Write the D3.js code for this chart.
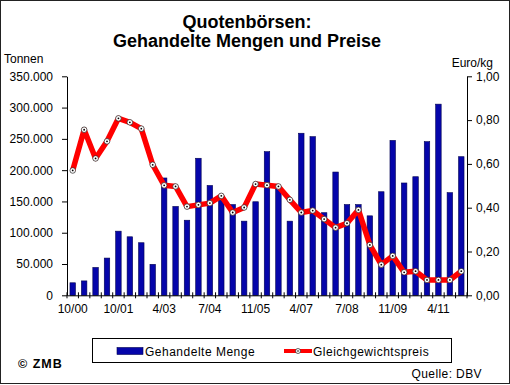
<!DOCTYPE html>
<html>
<head>
<meta charset="utf-8">
<script src="https://cdn.jsdelivr.net/npm/d3@7"></script>
<style>
  body { margin: 0; background: #fff; }
  svg { display: block; font-family: Arial, 'Liberation Sans', sans-serif; }
</style>
</head>
<body>
<svg width="510" height="385"></svg>
<script>
// Quotenbörsen: traded volumes (t) and equilibrium price (Euro/kg)
const categories = ['10/00', '2/01', '4/01', '7/01', '10/01', '4/02', '7/02', '10/02',
  '4/03', '7/03', '11/03', '4/04', '7/04', '11/04', '4/05', '7/05',
  '11/05', '4/06', '7/06', '11/06', '4/07', '7/07', '11/07', '4/08',
  '7/08', '11/08', '4/09', '7/09', '11/09', '4/10', '7/10', '11/10',
  '4/11', '7/11', '11/11'];

const menge = [20000, 23000, 44500, 59500, 102500, 93500, 84000, 49500,
  187500, 142000, 120000, 219000, 175500, 152000, 145000, 118500,
  149500, 229500, 170000, 118500, 259000, 253500, 132000, 197000,
  145000, 145000, 127000, 165500, 247500, 179500, 189500, 245500,
  305500, 164000, 221500];

const preis = [0.570, 0.756, 0.625, 0.703, 0.808, 0.790, 0.761, 0.596,
  0.502, 0.497, 0.405, 0.413, 0.421, 0.454, 0.378, 0.401,
  0.508, 0.503, 0.497, 0.436, 0.378, 0.387, 0.348, 0.309,
  0.329, 0.390, 0.230, 0.140, 0.180, 0.105, 0.110, 0.070,
  0.070, 0.070, 0.110];

const mengeTicks = [0, 50000, 100000, 150000, 200000, 250000, 300000, 350000];
const preisTicks = [0, 0.2, 0.4, 0.6, 0.8, 1.0];

const de = d3.formatLocale({ decimal: ',', thousands: '.', grouping: [3], currency: ['', ' €'] });

const svg = d3.select('svg');
const plotL = 67, plotR = 467, plotT = 76.3, plotB = 295.3;

// outer frame
svg.append('rect')
    .attr('x', 0.5).attr('y', 0.5)
    .attr('width', 509).attr('height', 383)
    .attr('fill', '#fff')
    .attr('stroke', '#222');

// title
const title = svg.append('text')
    .attr('text-anchor', 'middle')
    .attr('font-weight', 'bold')
    .attr('font-size', 18);
title.append('tspan').attr('x', 247).attr('y', 28).text('Quotenbörsen:');
title.append('tspan').attr('x', 247).attr('y', 47).text('Gehandelte Mengen und Preise');

svg.append('text').attr('x', 4).attr('y', 63).attr('font-size', 12).text('Tonnen');
svg.append('text').attr('x', 493).attr('y', 67).attr('font-size', 12)
    .attr('text-anchor', 'end').text('Euro/kg');

const x = d3.scaleBand()
    .domain(categories)
    .range([plotL, plotR])
    .paddingInner(0.52)
    .paddingOuter(0.26);

const yL = d3.scaleLinear().domain([0, 350000]).range([plotB, plotT]);
const yR = d3.scaleLinear().domain([0, 1]).range([plotB, plotT]);

// bars
svg.append('g')
  .selectAll('rect')
  .data(menge)
  .join('rect')
    .attr('x', (d, i) => x(categories[i]))
    .attr('y', d => yL(d))
    .attr('width', x.bandwidth())
    .attr('height', d => yL(0) - yL(d))
    .attr('fill', '#0505aa')
    .attr('stroke', '#000050')
    .attr('stroke-width', 0.6);

// left axis
const axL = svg.append('g')
    .attr('transform', 'translate(' + plotL + ',0)')
    .call(d3.axisLeft(yL).tickValues(mengeTicks).tickFormat(de.format(',.0f'))
      .tickSize(5).tickPadding(9).tickSizeOuter(0));
axL.selectAll('text').attr('font-size', 12).attr('fill', '#000');

// right axis
const axR = svg.append('g')
    .attr('transform', 'translate(' + plotR + ',0)')
    .call(d3.axisRight(yR).tickValues(preisTicks).tickFormat(de.format('.2f'))
      .tickSize(5).tickPadding(4).tickSizeOuter(0));
axR.selectAll('text').attr('font-size', 12).attr('fill', '#000');

// bottom axis: labels every 4th category, tick marks between categories
const axB = svg.append('g')
    .attr('transform', 'translate(0,' + plotB + ')')
    .call(d3.axisBottom(x).tickSize(0).tickPadding(9).tickSizeOuter(0)
      .tickFormat((d, i) => i % 4 === 0 ? d : ''));
axB.selectAll('text').attr('font-size', 12).attr('fill', '#000');
svg.selectAll('g[font-family]').attr('font-family', null);

const step = x.step();
const bounds = categories.map(c => x(c) + x.bandwidth() / 2 - step / 2)
  .concat([x(categories[categories.length - 1]) + x.bandwidth() / 2 + step / 2]);
svg.append('g')
  .selectAll('line')
  .data(bounds)
  .join('line')
    .attr('x1', d => d).attr('x2', d => d)
    .attr('y1', plotB - 3).attr('y2', plotB + 3)
    .attr('stroke', '#000');

// price line
const cx = i => x(categories[i]) + x.bandwidth() / 2;
const line = d3.line()
    .x((d, i) => cx(i))
    .y(d => yR(d));

svg.append('path')
    .datum(preis)
    .attr('fill', 'none')
    .attr('stroke', '#ff0000')
    .attr('stroke-width', 5.5)
    .attr('stroke-linejoin', 'round')
    .attr('d', line);

const marks = svg.append('g')
  .selectAll('g')
  .data(preis)
  .join('g')
    .attr('transform', (d, i) => 'translate(' + cx(i) + ',' + yR(d) + ')');
marks.append('circle').attr('r', 2.8).attr('fill', '#fff').attr('stroke', '#222').attr('stroke-width', 0.7);
marks.append('circle').attr('r', 0.9).attr('fill', '#000');

// legend
const lg = svg.append('g');
lg.append('rect')
    .attr('x', 92.5).attr('y', 338.5)
    .attr('width', 359).attr('height', 24)
    .attr('fill', '#fff').attr('stroke', '#000');
lg.append('rect')
    .attr('x', 117).attr('y', 347.5)
    .attr('width', 26).attr('height', 7)
    .attr('fill', '#0505aa').attr('stroke', '#000050').attr('stroke-width', 0.6);
lg.append('text').attr('x', 145).attr('y', 355.5).attr('font-size', 12)
    .attr('letter-spacing', 0.5).text('Gehandelte Menge');
lg.append('line')
    .attr('x1', 284).attr('x2', 312).attr('y1', 351).attr('y2', 351)
    .attr('stroke', '#ff0000').attr('stroke-width', 4);
lg.append('circle').attr('cx', 298).attr('cy', 351).attr('r', 2.5)
    .attr('fill', '#fff').attr('stroke', '#222').attr('stroke-width', 0.7);
lg.append('circle').attr('cx', 298).attr('cy', 351).attr('r', 0.8).attr('fill', '#000');
lg.append('text').attr('x', 313).attr('y', 355.5).attr('font-size', 12)
    .attr('letter-spacing', 0.5).text('Gleichgewichtspreis');

svg.append('text').attr('x', 18).attr('y', 368).attr('font-size', 12.5)
    .attr('font-weight', 'bold').attr('letter-spacing', 1).text('© ZMB');
svg.append('text').attr('x', 482).attr('y', 378).attr('font-size', 12)
    .attr('letter-spacing', 0.4).attr('text-anchor', 'end').text('Quelle: DBV');
</script>
</body>
</html>
